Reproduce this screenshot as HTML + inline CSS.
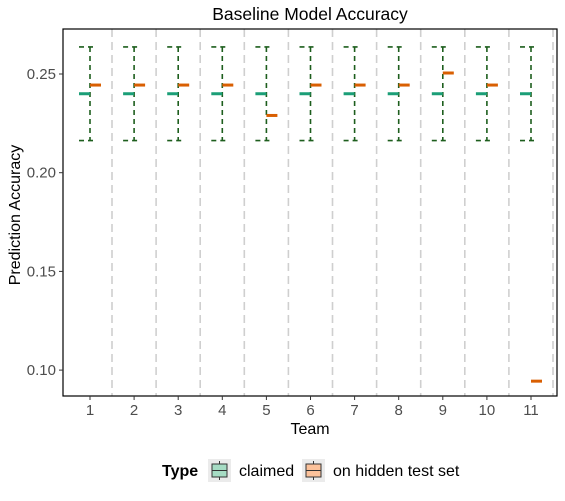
<!DOCTYPE html>
<html><head><meta charset="utf-8"><style>
body{margin:0;background:#fff;font-family:"Liberation Sans",Arial,sans-serif}
svg text{font-family:"Liberation Sans",Arial,sans-serif}
</style></head><body>
<svg id="c" width="565" height="496" xmlns="http://www.w3.org/2000/svg">
<rect width="565" height="496" fill="#fff"/>
<text x="310" y="20" text-anchor="middle" font-size="17.5" fill="#000">Baseline Model Accuracy</text>
<g id="grid"></g><g id="marks"></g><g id="axes"></g>
<text transform="translate(20,215) rotate(-90)" text-anchor="middle" font-size="16">Prediction Accuracy</text>
<text x="310" y="434" text-anchor="middle" font-size="16">Team</text>
<g>
<text x="162" y="476" font-size="16" font-weight="bold">Type</text>
<g>
<rect x="208" y="459" width="23" height="23" fill="#ebebeb"/>
<line x1="219.5" y1="461" x2="219.5" y2="480" stroke="#333"/>
<rect x="212" y="464" width="15" height="13" fill="#a6dcc4" stroke="#333"/>
<line x1="212" y1="470.5" x2="227" y2="470.5" stroke="#333"/>
<text x="239" y="476" font-size="16">claimed</text></g>
<g>
<rect x="302" y="459" width="23" height="23" fill="#ebebeb"/>
<line x1="313.5" y1="461" x2="313.5" y2="480" stroke="#333"/>
<rect x="306" y="464" width="15" height="13" fill="#fcc29b" stroke="#333"/>
<line x1="306" y1="470.5" x2="321" y2="470.5" stroke="#333"/>
<text x="333" y="476" font-size="16">on hidden test set</text></g>
</g>
</svg>
<script>
const teams=[1,2,3,4,5,6,7,8,9,10,11];
const claimed=[0.24,0.24,0.24,0.24,0.24,0.24,0.24,0.24,0.24,0.24,0.24];
const claimedLow=[0.2163,0.2163,0.2163,0.2163,0.2163,0.2163,0.2163,0.2163,0.2163,0.2163,0.2163];
const claimedHigh=[0.2637,0.2637,0.2637,0.2637,0.2637,0.2637,0.2637,0.2637,0.2637,0.2637,0.2637];
const hidden=[0.2444,0.2444,0.2444,0.2444,0.229,0.2444,0.2444,0.2444,0.2505,0.2444,0.0944];
const yTicks=[0.10,0.15,0.20,0.25];
const L=63,R=557,T=29,B=396;
const x=t=>90+(t-1)*44.1;
const y=v=>172.7-(v-0.20)*1974;
const NS="http://www.w3.org/2000/svg";
function mk(p,tag,a){const e=document.createElementNS(NS,tag);for(const k in a)e.setAttribute(k,a[k]);p.appendChild(e);return e;}
const grid=document.getElementById('grid'),marks=document.getElementById('marks'),axes=document.getElementById('axes');
teams.forEach(t=>{
 const g=mk(grid,'line',{x1:x(t)+22,x2:x(t)+22,y1:T,y2:B,stroke:'#cfcfcf','stroke-width':1.6,'stroke-dasharray':'8,5'});
 
 
});
teams.forEach((t,i)=>{
 const cx=x(t);
 const g=mk(marks,'g',{});
 
 
 const d={stroke:'#1d5e1d','stroke-width':1.6,'stroke-dasharray':'5,4',fill:'none'};
 const e=mk(g,'path',Object.assign({d:`M${cx-11},${y(claimedHigh[i])}H${cx+5}M${cx},${y(claimedHigh[i])}V${y(claimedLow[i])}M${cx-11},${y(claimedLow[i])}H${cx+5}`},d));
 
 
 const c=mk(g,'line',{x1:cx-11,x2:cx,y1:y(claimed[i]),y2:y(claimed[i]),stroke:'#1b9e77','stroke-width':3});
 
 
 const h=mk(g,'line',{x1:cx,x2:cx+11,y1:y(hidden[i]),y2:y(hidden[i]),stroke:'#d95f02','stroke-width':3});
 
 
});
const fr=mk(axes,'rect',{x:L,y:T,width:R-L,height:B-T,fill:'none',stroke:'#000','stroke-width':1.2});


yTicks.forEach(v=>{
 mk(axes,'line',{x1:L-4,x2:L,y1:y(v),y2:y(v),stroke:'#333'});
 const tx=mk(axes,'text',{x:L-7,y:y(v)+5,'text-anchor':'end','font-size':15,fill:'#4d4d4d'});
 tx.textContent=v.toFixed(2);
 
 
});
teams.forEach(t=>{
 mk(axes,'line',{x1:x(t),x2:x(t),y1:B,y2:B+4,stroke:'#333'});
 const tx=mk(axes,'text',{x:x(t),y:B+19,'text-anchor':'middle','font-size':15,fill:'#4d4d4d'});
 tx.textContent=t;
 
 
});
</script>
</body></html>
